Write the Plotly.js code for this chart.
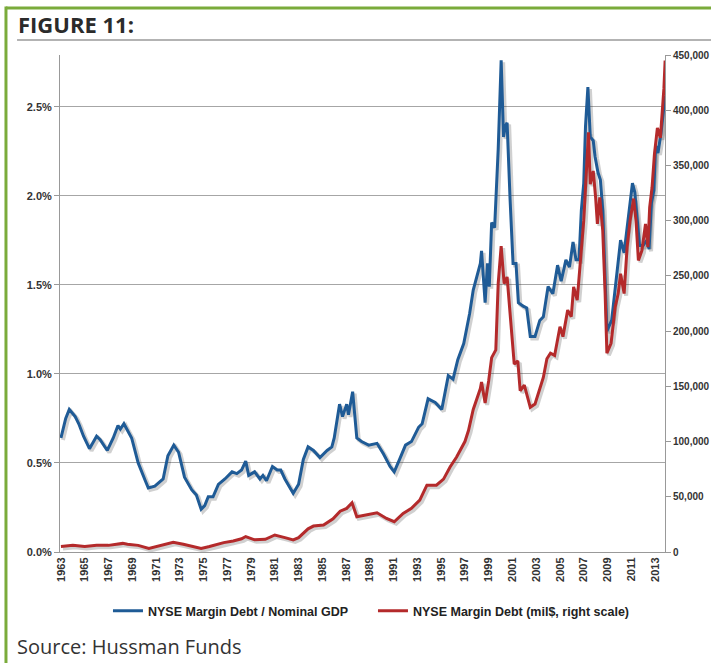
<!DOCTYPE html>
<html>
<head>
<meta charset="utf-8">
<script src="https://cdn.plot.ly/plotly-3.0.1.min.js"></script>
<style>
  html, body { margin: 0; padding: 0; background: #fff; }
  #myDiv { width: 711px; height: 663px; }
</style>
</head>
<body>
<div id="myDiv"></div>
<script>
// NYSE margin debt / nominal GDP (%), left scale
var blueYears = [1963.0, 1963.4, 1963.7, 1964.2, 1964.5, 1964.9, 1965.4, 1966.0, 1966.3, 1966.9,
    1967.4, 1967.8, 1968.0, 1968.3, 1968.95, 1969.5, 1970.1, 1970.35, 1970.9, 1971.6,
    1972.0, 1972.5, 1972.9, 1973.4, 1974.0, 1974.4, 1974.8, 1975.1, 1975.4, 1975.8,
    1976.25, 1976.8, 1977.4, 1977.8, 1978.2, 1978.55, 1978.8, 1979.3, 1979.75, 1980.0,
    1980.3, 1980.8, 1981.2, 1981.5, 1981.85, 1982.55, 1983.0, 1983.4, 1983.8, 1984.25,
    1984.8, 1985.4, 1985.8, 1986.0, 1986.45, 1986.7, 1987.05, 1987.2, 1987.55, 1987.9,
    1988.3, 1988.9, 1989.6, 1990.15, 1990.7, 1991.05, 1991.5, 1992.0, 1992.5, 1993.1,
    1993.4, 1993.9, 1994.5, 1995.05, 1995.6, 1996.0, 1996.4, 1996.9, 1997.4, 1997.7,
    1998.3, 1998.4, 1998.7, 1998.9, 1999.05, 1999.25, 1999.5, 1999.8, 2000.05, 2000.25,
    2000.4, 2000.55, 2000.8, 2001.05, 2001.3, 2001.5, 2001.9, 2002.2, 2002.5, 2002.9,
    2003.3, 2003.6, 2004.0, 2004.4, 2004.8, 2005.1, 2005.5, 2005.8, 2006.1, 2006.35,
    2006.6, 2006.8, 2007.0, 2007.15, 2007.35, 2007.55, 2007.8, 2007.95, 2008.2, 2008.4,
    2008.6, 2008.8, 2008.95, 2009.35, 2009.65, 2009.85, 2010.1, 2010.4, 2010.65, 2010.9,
    2011.1, 2011.3, 2011.5, 2011.7, 2012.0, 2012.3, 2012.5, 2012.7, 2012.9, 2013.05,
    2013.25, 2013.5, 2013.85];
var blueRatio = [0.64, 0.75, 0.80, 0.76, 0.72, 0.65, 0.58, 0.65, 0.63, 0.57,
    0.64, 0.71, 0.69, 0.72, 0.64, 0.50, 0.40, 0.36, 0.37, 0.41,
    0.54, 0.60, 0.56, 0.42, 0.35, 0.32, 0.24, 0.26, 0.31, 0.31,
    0.38, 0.41, 0.45, 0.44, 0.46, 0.51, 0.43, 0.45, 0.41, 0.43,
    0.40, 0.48, 0.46, 0.46, 0.41, 0.33, 0.38, 0.52, 0.59, 0.57,
    0.53, 0.57, 0.59, 0.64, 0.83, 0.76, 0.83, 0.77, 0.90, 0.64,
    0.62, 0.60, 0.61, 0.55, 0.48, 0.45, 0.52, 0.60, 0.62, 0.70,
    0.72, 0.86, 0.84, 0.80, 0.99, 0.97, 1.08, 1.17, 1.34, 1.47,
    1.62, 1.69, 1.40, 1.62, 1.49, 1.85, 1.82, 2.26, 2.76, 2.33,
    2.39, 2.41, 1.98, 1.62, 1.62, 1.40, 1.38, 1.37, 1.21, 1.21,
    1.30, 1.32, 1.49, 1.45, 1.61, 1.52, 1.64, 1.60, 1.74, 1.64,
    1.64, 1.92, 2.07, 2.39, 2.61, 2.33, 2.31, 2.22, 2.13, 2.09,
    1.92, 1.57, 1.24, 1.30, 1.49, 1.58, 1.75, 1.68, 1.83, 1.96,
    2.07, 2.02, 1.87, 1.72, 1.72, 1.75, 1.70, 1.96, 2.03, 2.28,
    2.24, 2.35, 2.56];

// NYSE margin debt (mil$), right scale
var redYears = [1963.0, 1964.0, 1965.0, 1966.0, 1967.0, 1968.2, 1968.6, 1969.5, 1970.4, 1971.0,
    1972.0, 1972.45, 1973.3, 1974.0, 1974.8, 1975.5, 1976.7, 1977.5, 1978.2, 1978.55,
    1979.3, 1980.2, 1981.0, 1981.85, 1982.55, 1983.0, 1983.4, 1983.8, 1984.25, 1985.1,
    1985.9, 1986.5, 1987.05, 1987.5, 1987.9, 1988.7, 1989.6, 1990.4, 1991.05, 1991.8,
    1992.5, 1993.2, 1993.8, 1994.6, 1995.2, 1995.75, 1996.3, 1997.0, 1997.3, 1997.7,
    1998.3, 1998.4, 1998.7, 1999.0, 1999.25, 1999.6, 1999.8, 2000.05, 2000.3, 2000.55,
    2000.9, 2001.15, 2001.45, 2001.65, 2002.0, 2002.5, 2002.9, 2003.3, 2003.6, 2003.9,
    2004.2, 2004.55, 2005.0, 2005.25, 2005.65, 2005.95, 2006.15, 2006.45, 2006.75, 2007.0,
    2007.3, 2007.4, 2007.55, 2007.8, 2008.0, 2008.15, 2008.35, 2008.6, 2008.8, 2008.95,
    2009.3, 2009.65, 2009.9, 2010.1, 2010.4, 2010.65, 2010.9, 2011.2, 2011.4, 2011.6,
    2011.9, 2012.2, 2012.4, 2012.55, 2012.75, 2012.95, 2013.2, 2013.45, 2013.75, 2013.85];
var redDebt = [5000, 6000, 5000, 6000, 6000, 7800, 7000, 6000, 3300, 5000,
    8000, 8800, 7000, 5000, 3300, 5000, 8500, 10000, 12000, 14000,
    11000, 11500, 15400, 13000, 11000, 13000, 17000, 21000, 23500, 24400,
    30000, 37000, 39500, 44600, 32000, 33400, 35500, 30400, 27400, 35000,
    39500, 47000, 60500, 60500, 66000, 77000, 86000, 100000, 110000, 129000,
    148000, 154000, 135000, 155000, 176000, 183000, 243000, 277000, 243000, 249000,
    204000, 170000, 173000, 146000, 151000, 131000, 134000, 149000, 158000, 175000,
    180000, 178000, 204000, 195000, 219000, 213000, 240000, 228000, 267000, 300000,
    360000, 380000, 333000, 345000, 321000, 297000, 321000, 291000, 234000, 180000,
    189000, 222000, 234000, 252000, 234000, 276000, 300000, 320000, 300000, 264000,
    273000, 297000, 276000, 312000, 330000, 360000, 384000, 375000, 420000, 445000];

var yearTicks = [1963, 1965, 1967, 1969, 1971, 1973, 1975, 1977, 1979, 1981, 1983, 1985, 1987,
    1989, 1991, 1993, 1995, 1997, 1999, 2001, 2003, 2005, 2007, 2009, 2011, 2013];
var ratioTicks = [0, 0.5, 1.0, 1.5, 2.0, 2.5];

var xRange = [1962.92, 2013.84];
var leftRange = [0, 2.79];
var rightRange = [0, 450000];

// drop shadow: same data drawn on hidden axes nudged 2px right and 2px down
function nudge(r, px, len) {
    var d = px * (r[1] - r[0]) / len;
    return [r[0] + d, r[1] + d];
}

var tickFont = { family: 'Liberation Sans, Arial, sans-serif', size: 11, color: '#333333', weight: 'bold' };
var shadowLine = { color: 'rgba(40,40,40,0.22)', width: 4 };

var shadow1 = {
    x: blueYears, y: blueRatio, mode: 'lines', type: 'scatter',
    line: shadowLine, showlegend: false, hoverinfo: 'skip',
    xaxis: 'x', yaxis: 'y'
};
var shadow2 = {
    x: redYears, y: redDebt, mode: 'lines', type: 'scatter',
    line: shadowLine, showlegend: false, hoverinfo: 'skip',
    xaxis: 'x', yaxis: 'y4'
};

var trace1 = {
    x: blueYears,
    y: blueRatio,
    mode: 'lines',
    type: 'scatter',
    name: 'NYSE Margin Debt / Nominal GDP',
    line: { color: '#1f5b96', width: 3 },
    xaxis: 'x2',
    yaxis: 'y2'
};

var trace2 = {
    x: redYears,
    y: redDebt,
    mode: 'lines',
    type: 'scatter',
    name: 'NYSE Margin Debt (mil$, right scale)',
    line: { color: '#b42a2b', width: 3 },
    xaxis: 'x2',
    yaxis: 'y3'
};

var green = '#7aab3b';

var layout = {
    width: 711,
    height: 663,
    margin: { l: 60, r: 46, t: 55, b: 111 },
    paper_bgcolor: '#ffffff',
    plot_bgcolor: '#ffffff',
    showlegend: true,
    legend: {
        orientation: 'h',
        x: 0.0793, xanchor: 'left',
        y: -0.119, yanchor: 'middle',
        font: { family: 'Liberation Sans, Arial, sans-serif', size: 12.5, color: '#222222', weight: 'bold' },
        itemwidth: 30,
        entrywidth: 220
    },
    // hidden axes carrying the shadows
    xaxis: { visible: false, range: nudge(xRange, -2, 605) },
    yaxis: { visible: false, range: nudge(leftRange, 2, 497) },
    yaxis4: { visible: false, overlaying: 'y', range: nudge(rightRange, 2, 497) },
    xaxis2: {
        overlaying: 'x',
        anchor: 'y2',
        range: xRange,
        tickvals: yearTicks,
        ticktext: yearTicks.map(String),
        tickangle: -90,
        tickfont: tickFont,
        showgrid: false,
        zeroline: false,
        showline: true,
        linecolor: '#999999',
        linewidth: 1,
        ticks: ''
    },
    yaxis2: {
        overlaying: 'y',
        anchor: 'x2',
        side: 'left',
        range: leftRange,
        tickvals: ratioTicks,
        ticktext: ratioTicks.map(function (v) { return v.toFixed(1) + '%'; }),
        tickfont: tickFont,
        showgrid: true,
        gridcolor: '#a6a6a6',
        gridwidth: 1,
        zeroline: false,
        showline: true,
        linecolor: '#999999',
        ticks: 'outside',
        ticklen: 5,
        tickcolor: '#999999'
    },
    yaxis3: {
        overlaying: 'y',
        anchor: 'x2',
        side: 'right',
        range: rightRange,
        dtick: 50000,
        tickformat: ',d',
        tickfont: { family: 'Liberation Sans, Arial, sans-serif', size: 10, color: '#333333', weight: 'bold' },
        showgrid: false,
        zeroline: false,
        showline: true,
        linecolor: '#999999',
        ticks: 'outside',
        ticklen: 5,
        tickcolor: '#999999'
    },
    shapes: [
        // green frame, top and left
        { type: 'line', xref: 'paper', yref: 'paper', x0: -0.0893, x1: 1.08, y0: 1.0946, y1: 1.0946,
          line: { color: green, width: 3 } },
        { type: 'line', xref: 'paper', yref: 'paper', x0: -0.0893, x1: -0.0893, y0: 1.0976, y1: -0.23,
          line: { color: green, width: 3 } },
        // rule under the title
        { type: 'line', xref: 'paper', yref: 'paper', x0: -0.071, x1: 1.08, y0: 1.0302, y1: 1.0302,
          line: { color: '#9a9a9a', width: 1.5 } }
    ],
    annotations: [
        { text: 'FIGURE 11:', xref: 'paper', yref: 'paper', x: -0.073, y: 1.0624,
          xanchor: 'left', yanchor: 'middle', showarrow: false,
          font: { family: 'Open Sans, sans-serif', size: 22, color: '#2b2b2b', weight: 'bold' } },
        { text: 'Source: Hussman Funds', xref: 'paper', yref: 'paper', x: -0.075, y: -0.191,
          xanchor: 'left', yanchor: 'middle', showarrow: false,
          font: { family: 'Open Sans, sans-serif', size: 20, color: '#333333' } }
    ]
};

var config = { displayModeBar: false, staticPlot: true };

Plotly.newPlot('myDiv', [shadow1, shadow2, trace1, trace2], layout, config);
</script>
</body>
</html>
